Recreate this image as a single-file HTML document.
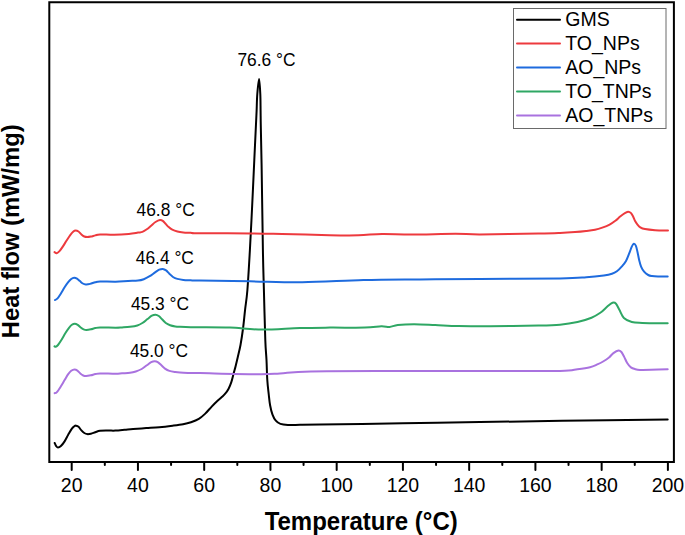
<!DOCTYPE html>
<html><head><meta charset="utf-8"><style>
html,body{margin:0;padding:0;background:#fff;}
body{width:685px;height:535px;overflow:hidden;}
svg{display:block;}
text{font-family:"Liberation Sans",sans-serif;fill:#000;}
.tl{font-size:19.5px;}
.lg{font-size:19.5px;}
.an{font-size:17.4px;}
.ax{font-size:24px;font-weight:bold;}
</style></head><body>
<svg width="685" height="535" viewBox="0 0 685 535">
<rect x="0" y="0" width="685" height="535" fill="#fff"/>
<path d="M54.70,443.00 C54.95,443.52 55.65,445.33 56.20,446.10 C56.75,446.87 57.22,447.60 58.00,447.60 C58.78,447.60 59.80,447.13 60.90,446.10 C62.00,445.07 63.38,443.28 64.60,441.40 C65.82,439.52 66.98,436.93 68.20,434.80 C69.42,432.67 70.80,430.08 71.90,428.60 C73.00,427.12 74.13,426.38 74.80,425.90 C75.47,425.42 75.28,425.55 75.90,425.70 C76.52,425.85 77.58,426.02 78.50,426.80 C79.42,427.58 80.43,429.37 81.40,430.40 C82.37,431.43 83.33,432.38 84.30,433.00 C85.27,433.62 86.10,433.98 87.20,434.10 C88.30,434.22 89.55,434.02 90.90,433.70 C92.25,433.38 93.78,432.68 95.30,432.20 C96.82,431.72 97.82,431.07 100.00,430.80 C102.18,430.53 105.83,430.63 108.40,430.60 C110.97,430.57 112.68,430.73 115.40,430.60 C118.12,430.47 121.75,430.07 124.70,429.80 C127.65,429.53 129.50,429.28 133.10,429.00 C136.70,428.72 141.92,428.40 146.30,428.10 C150.68,427.80 155.02,427.60 159.40,427.20 C163.78,426.80 168.65,426.20 172.60,425.70 C176.55,425.20 180.03,424.78 183.10,424.20 C186.17,423.62 188.38,423.08 191.00,422.20 C193.62,421.32 196.47,420.28 198.80,418.90 C201.13,417.52 202.85,415.95 205.00,413.90 C207.15,411.85 209.65,408.75 211.70,406.60 C213.75,404.45 215.62,402.58 217.30,401.00 C218.98,399.42 220.48,398.32 221.80,397.10 C223.12,395.88 224.07,395.10 225.20,393.70 C226.33,392.30 227.57,390.67 228.60,388.70 C229.63,386.73 230.57,384.43 231.40,381.90 C232.23,379.37 232.90,376.12 233.60,373.50 C234.30,370.88 234.90,368.95 235.60,366.20 C236.30,363.45 236.98,360.53 237.80,357.00 C238.62,353.47 239.62,349.83 240.50,345.00 C241.38,340.17 242.33,333.90 243.10,328.00 C243.87,322.10 244.38,315.93 245.10,309.60 C245.82,303.27 246.60,299.93 247.40,290.00 C248.20,280.07 249.10,264.17 249.90,250.00 C250.70,235.83 251.47,220.00 252.20,205.00 C252.93,190.00 253.68,173.17 254.30,160.00 C254.92,146.83 255.52,134.17 255.90,126.00 C256.28,117.83 256.37,116.33 256.60,111.00 C256.83,105.67 256.88,99.33 257.30,94.00 C257.72,88.67 258.60,79.00 259.10,79.00 C259.60,79.00 260.05,88.67 260.30,94.00 C260.55,99.33 260.52,105.67 260.60,111.00 C260.68,116.33 260.63,117.00 260.80,126.00 C260.97,135.00 261.25,144.33 261.60,165.00 C261.95,185.67 262.52,229.17 262.90,250.00 C263.28,270.83 263.50,275.00 263.90,290.00 C264.30,305.00 264.87,328.33 265.30,340.00 C265.73,351.67 266.17,353.33 266.50,360.00 C266.83,366.67 266.93,374.33 267.30,380.00 C267.67,385.67 268.23,389.80 268.70,394.00 C269.17,398.20 269.47,401.77 270.10,405.20 C270.73,408.63 271.55,412.02 272.50,414.60 C273.45,417.18 274.48,419.15 275.80,420.70 C277.12,422.25 278.38,423.20 280.40,423.90 C282.42,424.60 284.63,424.75 287.90,424.90 C291.17,425.05 294.65,424.87 300.00,424.80 C305.35,424.73 309.67,424.65 320.00,424.50 C330.33,424.35 345.33,424.15 362.00,423.90 C378.67,423.65 400.33,423.30 420.00,423.00 C439.67,422.70 456.33,422.47 480.00,422.10 C503.67,421.73 530.72,421.22 562.00,420.80 C593.28,420.38 650.08,419.80 667.70,419.60" stroke="#000000" stroke-width="2.00" fill="none" stroke-linejoin="round" stroke-linecap="round"/>
<path d="M54.50,252.10 C54.87,252.28 55.87,253.35 56.70,253.20 C57.53,253.05 58.43,252.38 59.50,251.20 C60.57,250.02 61.88,247.93 63.10,246.10 C64.32,244.27 65.58,242.08 66.80,240.20 C68.02,238.32 69.30,236.25 70.40,234.80 C71.50,233.35 72.55,232.20 73.40,231.50 C74.25,230.80 74.65,230.60 75.50,230.60 C76.35,230.60 77.52,230.87 78.50,231.50 C79.48,232.13 80.43,233.57 81.40,234.40 C82.37,235.23 83.33,236.05 84.30,236.50 C85.27,236.95 86.10,237.08 87.20,237.10 C88.30,237.12 89.55,236.88 90.90,236.60 C92.25,236.32 93.78,235.77 95.30,235.40 C96.82,235.03 96.85,234.52 100.00,234.40 C103.15,234.28 109.40,234.78 114.20,234.70 C119.00,234.62 124.83,234.25 128.80,233.90 C132.77,233.55 135.73,232.93 138.00,232.60 C140.27,232.27 140.93,232.45 142.40,231.90 C143.87,231.35 145.35,230.33 146.80,229.30 C148.25,228.27 149.65,226.92 151.10,225.70 C152.55,224.48 154.03,222.95 155.50,222.00 C156.97,221.05 158.68,220.18 159.90,220.00 C161.12,219.82 161.83,220.25 162.80,220.90 C163.77,221.55 164.72,222.87 165.70,223.90 C166.68,224.93 167.60,226.13 168.70,227.10 C169.80,228.07 170.85,228.97 172.30,229.70 C173.75,230.43 175.57,231.05 177.40,231.50 C179.23,231.95 181.12,232.18 183.30,232.40 C185.48,232.62 187.75,232.65 190.50,232.80 C193.25,232.95 189.67,233.20 199.80,233.30 C209.93,233.40 237.60,233.28 251.30,233.40 C265.00,233.52 268.95,233.70 282.00,234.00 C295.05,234.30 316.83,234.98 329.60,235.20 C342.37,235.42 349.83,235.52 358.60,235.30 C367.37,235.08 373.40,234.03 382.20,233.90 C391.00,233.77 399.23,234.52 411.40,234.50 C423.57,234.48 443.77,233.82 455.20,233.80 C466.63,233.78 466.13,234.43 480.00,234.40 C493.87,234.37 525.07,233.83 538.40,233.60 C551.73,233.37 553.90,233.25 560.00,233.00 C566.10,232.75 570.65,232.43 575.00,232.10 C579.35,231.77 582.77,231.40 586.10,231.00 C589.43,230.60 592.30,230.27 595.00,229.70 C597.70,229.13 599.87,228.45 602.30,227.60 C604.73,226.75 607.42,225.75 609.60,224.60 C611.78,223.45 613.58,222.08 615.40,220.70 C617.22,219.32 618.78,217.63 620.50,216.30 C622.22,214.97 624.42,213.47 625.70,212.70 C626.98,211.93 627.35,211.67 628.20,211.70 C629.05,211.73 630.00,212.13 630.80,212.90 C631.60,213.67 632.28,214.93 633.00,216.30 C633.72,217.67 634.38,219.77 635.10,221.10 C635.82,222.43 636.43,223.27 637.30,224.30 C638.17,225.33 639.02,226.50 640.30,227.30 C641.58,228.10 642.53,228.62 645.00,229.10 C647.47,229.58 651.27,229.97 655.10,230.20 C658.93,230.43 665.85,230.45 668.00,230.50" stroke="#ED3A3E" stroke-width="2.00" fill="none" stroke-linejoin="round" stroke-linecap="round"/>
<path d="M55.00,300.00 C55.38,299.78 56.32,299.78 57.30,298.70 C58.28,297.62 59.68,295.40 60.90,293.50 C62.12,291.60 63.38,289.18 64.60,287.30 C65.82,285.42 67.10,283.58 68.20,282.20 C69.30,280.82 70.22,279.75 71.20,279.00 C72.18,278.25 73.13,277.77 74.10,277.70 C75.07,277.63 76.03,278.03 77.00,278.60 C77.97,279.17 78.93,280.28 79.90,281.10 C80.87,281.92 81.82,282.95 82.80,283.50 C83.78,284.05 84.58,284.33 85.80,284.40 C87.02,284.47 88.52,284.27 90.10,283.90 C91.68,283.53 93.65,282.60 95.30,282.20 C96.95,281.80 96.60,281.58 100.00,281.50 C103.40,281.42 111.03,281.78 115.70,281.70 C120.37,281.62 124.28,281.18 128.00,281.00 C131.72,280.82 135.37,280.90 138.00,280.60 C140.63,280.30 141.85,279.93 143.80,279.20 C145.75,278.47 147.87,277.30 149.70,276.20 C151.53,275.10 153.22,273.68 154.80,272.60 C156.38,271.52 157.87,270.32 159.20,269.70 C160.53,269.08 161.65,268.78 162.80,268.90 C163.95,269.02 165.00,269.60 166.10,270.40 C167.20,271.20 168.25,272.60 169.40,273.70 C170.55,274.80 171.67,276.13 173.00,277.00 C174.33,277.87 175.68,278.42 177.40,278.90 C179.12,279.38 181.07,279.67 183.30,279.90 C185.53,280.13 188.02,280.18 190.80,280.30 C193.58,280.42 190.13,280.43 200.00,280.60 C209.87,280.77 232.97,281.03 250.00,281.30 C267.03,281.57 283.28,282.40 302.20,282.20 C321.12,282.00 343.87,280.57 363.50,280.10 C383.13,279.63 400.58,279.60 420.00,279.40 C439.42,279.20 456.67,279.05 480.00,278.90 C503.33,278.75 542.28,278.77 560.00,278.50 C577.72,278.23 579.00,277.80 586.30,277.30 C593.60,276.80 599.52,276.08 603.80,275.50 C608.08,274.92 609.82,274.50 612.00,273.80 C614.18,273.10 615.25,272.53 616.90,271.30 C618.55,270.07 620.38,268.12 621.90,266.40 C623.42,264.68 624.77,263.20 626.00,261.00 C627.23,258.80 628.33,255.60 629.30,253.20 C630.27,250.80 631.05,248.17 631.80,246.60 C632.55,245.03 633.12,243.93 633.80,243.80 C634.48,243.67 635.28,244.43 635.90,245.80 C636.52,247.17 636.95,249.60 637.50,252.00 C638.05,254.40 638.58,257.73 639.20,260.20 C639.82,262.67 640.38,264.88 641.20,266.80 C642.02,268.72 642.93,270.33 644.10,271.70 C645.27,273.07 646.88,274.28 648.20,275.00 C649.52,275.72 650.37,275.77 652.00,276.00 C653.63,276.23 655.38,276.33 658.00,276.40 C660.62,276.47 666.08,276.40 667.70,276.40" stroke="#1E6BDE" stroke-width="2.00" fill="none" stroke-linejoin="round" stroke-linecap="round"/>
<path d="M54.50,346.30 C54.70,346.38 55.12,347.02 55.70,346.80 C56.28,346.58 57.00,346.22 58.00,345.00 C59.00,343.78 60.48,341.45 61.70,339.50 C62.92,337.55 64.08,335.23 65.30,333.30 C66.52,331.37 67.90,329.32 69.00,327.90 C70.10,326.48 70.93,325.50 71.90,324.80 C72.87,324.10 73.83,323.70 74.80,323.70 C75.77,323.70 76.72,324.17 77.70,324.80 C78.68,325.43 79.72,326.75 80.70,327.50 C81.68,328.25 82.63,328.90 83.60,329.30 C84.57,329.70 85.28,329.90 86.50,329.90 C87.72,329.90 89.43,329.60 90.90,329.30 C92.37,329.00 93.78,328.40 95.30,328.10 C96.82,327.80 96.60,327.57 100.00,327.50 C103.40,327.43 112.03,327.72 115.70,327.70 C119.37,327.68 119.62,327.55 122.00,327.40 C124.38,327.25 127.45,327.12 130.00,326.80 C132.55,326.48 135.23,326.13 137.30,325.50 C139.37,324.87 140.70,324.08 142.40,323.00 C144.10,321.92 145.92,320.22 147.50,319.00 C149.08,317.78 150.57,316.42 151.90,315.70 C153.23,314.98 154.35,314.65 155.50,314.70 C156.65,314.75 157.70,315.23 158.80,316.00 C159.90,316.77 160.93,318.13 162.10,319.30 C163.27,320.47 164.47,322.02 165.80,323.00 C167.13,323.98 168.52,324.63 170.10,325.20 C171.68,325.77 173.65,326.13 175.30,326.40 C176.95,326.67 177.43,326.67 180.00,326.80 C182.57,326.93 187.37,327.13 190.70,327.20 C194.03,327.27 193.45,327.13 200.00,327.20 C206.55,327.27 219.67,327.20 230.00,327.60 C240.33,328.00 250.33,329.53 262.00,329.60 C273.67,329.67 288.67,328.33 300.00,328.00 C311.33,327.67 319.17,327.67 330.00,327.60 C340.83,327.53 356.43,327.83 365.00,327.60 C373.57,327.37 377.30,326.30 381.40,326.20 C385.50,326.10 386.87,327.20 389.60,327.00 C392.33,326.80 393.72,325.47 397.80,325.00 C401.88,324.53 407.88,324.20 414.10,324.20 C420.32,324.20 427.70,324.68 435.10,325.00 C442.50,325.32 449.35,325.90 458.50,326.10 C467.65,326.30 476.68,326.28 490.00,326.20 C503.32,326.12 526.73,325.85 538.40,325.60 C550.07,325.35 553.48,325.30 560.00,324.70 C566.52,324.10 572.25,323.17 577.50,322.00 C582.75,320.83 587.70,319.23 591.50,317.70 C595.30,316.17 597.67,314.65 600.30,312.80 C602.93,310.95 605.27,308.27 607.30,306.60 C609.33,304.93 611.05,303.28 612.50,302.80 C613.95,302.32 614.83,302.48 616.00,303.70 C617.17,304.92 618.18,307.72 619.50,310.10 C620.82,312.48 621.85,316.02 623.90,318.00 C625.95,319.98 628.73,321.18 631.80,322.00 C634.87,322.82 636.32,322.68 642.30,322.90 C648.28,323.12 663.47,323.23 667.70,323.30" stroke="#2FA764" stroke-width="2.00" fill="none" stroke-linejoin="round" stroke-linecap="round"/>
<path d="M54.70,393.20 C55.07,393.02 55.87,393.25 56.90,392.10 C57.93,390.95 59.62,388.30 60.90,386.30 C62.18,384.30 63.38,382.12 64.60,380.10 C65.82,378.08 67.10,375.75 68.20,374.20 C69.30,372.65 70.15,371.58 71.20,370.80 C72.25,370.02 73.47,369.53 74.50,369.50 C75.53,369.47 76.43,369.93 77.40,370.60 C78.37,371.27 79.33,372.68 80.30,373.50 C81.27,374.32 82.23,375.07 83.20,375.50 C84.17,375.93 84.82,376.13 86.10,376.10 C87.38,376.07 89.37,375.63 90.90,375.30 C92.43,374.97 93.78,374.42 95.30,374.10 C96.82,373.78 96.60,373.45 100.00,373.40 C103.40,373.35 112.03,373.82 115.70,373.80 C119.37,373.78 119.62,373.47 122.00,373.30 C124.38,373.13 127.70,373.10 130.00,372.80 C132.30,372.50 133.85,372.13 135.80,371.50 C137.75,370.87 139.87,370.03 141.70,369.00 C143.53,367.97 145.22,366.43 146.80,365.30 C148.38,364.17 149.87,362.87 151.20,362.20 C152.53,361.53 153.65,361.27 154.80,361.30 C155.95,361.33 157.00,361.73 158.10,362.40 C159.20,363.07 160.25,364.27 161.40,365.30 C162.55,366.33 163.67,367.67 165.00,368.60 C166.33,369.53 167.68,370.32 169.40,370.90 C171.12,371.48 173.53,371.82 175.30,372.10 C177.07,372.38 177.88,372.47 180.00,372.60 C182.12,372.73 184.67,372.82 188.00,372.90 C191.33,372.98 188.00,372.88 200.00,373.10 C212.00,373.32 246.67,374.15 260.00,374.20 C273.33,374.25 271.55,373.87 280.00,373.40 C288.45,372.93 290.70,371.80 310.70,371.40 C330.70,371.00 370.12,371.08 400.00,371.00 C429.88,370.92 463.33,370.92 490.00,370.90 C516.67,370.88 545.42,371.18 560.00,370.90 C574.58,370.62 572.50,369.82 577.50,369.20 C582.50,368.58 586.70,368.00 590.00,367.20 C593.30,366.40 595.12,365.35 597.30,364.40 C599.48,363.45 601.15,362.65 603.10,361.50 C605.05,360.35 607.28,358.90 609.00,357.50 C610.72,356.10 611.82,354.28 613.40,353.10 C614.98,351.92 617.17,350.58 618.50,350.40 C619.83,350.22 620.43,350.88 621.40,352.00 C622.37,353.12 623.33,355.27 624.30,357.10 C625.27,358.93 626.10,361.28 627.20,363.00 C628.30,364.72 629.55,366.37 630.90,367.40 C632.25,368.43 633.78,368.78 635.30,369.20 C636.82,369.62 637.38,369.80 640.00,369.90 C642.62,370.00 646.38,369.92 651.00,369.80 C655.62,369.68 664.92,369.30 667.70,369.20" stroke="#A972DF" stroke-width="2.00" fill="none" stroke-linejoin="round" stroke-linecap="round"/>
<rect x="513.5" y="8.5" width="152.5" height="120" fill="#fff" stroke="#6a6a6a" stroke-width="1"/>
<line x1="517" y1="19.8" x2="560" y2="19.8" stroke="#000000" stroke-width="2" stroke-linecap="round"/>
<text transform="translate(565.3,26.20) scale(1,1.06)" class="lg">GMS</text>
<line x1="517" y1="43.6" x2="560" y2="43.6" stroke="#ED3A3E" stroke-width="2" stroke-linecap="round"/>
<text transform="translate(565.3,50.00) scale(1,1.06)" class="lg">TO_NPs</text>
<line x1="517" y1="67.6" x2="560" y2="67.6" stroke="#1E6BDE" stroke-width="2" stroke-linecap="round"/>
<text transform="translate(565.3,74.00) scale(1,1.06)" class="lg">AO_NPs</text>
<line x1="517" y1="91.5" x2="560" y2="91.5" stroke="#2FA764" stroke-width="2" stroke-linecap="round"/>
<text transform="translate(565.3,97.90) scale(1,1.06)" class="lg">TO_TNPs</text>
<line x1="517" y1="115.4" x2="560" y2="115.4" stroke="#A972DF" stroke-width="2" stroke-linecap="round"/>
<text transform="translate(565.3,121.80) scale(1,1.06)" class="lg">AO_TNPs</text>
<text transform="translate(266.5,65.8) scale(1,1.07)" text-anchor="middle" class="an">76.6 °C</text>
<text transform="translate(165.6,215.7) scale(1,1.07)" text-anchor="middle" class="an">46.8 °C</text>
<text transform="translate(164.8,264.4) scale(1,1.07)" text-anchor="middle" class="an">46.4 °C</text>
<text transform="translate(160.0,309.8) scale(1,1.07)" text-anchor="middle" class="an">45.3 °C</text>
<text transform="translate(159.0,357.0) scale(1,1.07)" text-anchor="middle" class="an">45.0 °C</text>
<path d="M49.3,1.2 V462.9 M48.3,2.2 H674.9 M673.9,1.2 V462.9 M48.3,461.9 H674.9" fill="none" stroke="#000" stroke-width="2"/>
<line x1="71.70" y1="461.90" x2="71.70" y2="469.9" stroke="#000" stroke-width="2" stroke-linecap="round"/>
<line x1="137.94" y1="461.90" x2="137.94" y2="469.9" stroke="#000" stroke-width="2" stroke-linecap="round"/>
<line x1="204.19" y1="461.90" x2="204.19" y2="469.9" stroke="#000" stroke-width="2" stroke-linecap="round"/>
<line x1="270.43" y1="461.90" x2="270.43" y2="469.9" stroke="#000" stroke-width="2" stroke-linecap="round"/>
<line x1="336.68" y1="461.90" x2="336.68" y2="469.9" stroke="#000" stroke-width="2" stroke-linecap="round"/>
<line x1="402.92" y1="461.90" x2="402.92" y2="469.9" stroke="#000" stroke-width="2" stroke-linecap="round"/>
<line x1="469.17" y1="461.90" x2="469.17" y2="469.9" stroke="#000" stroke-width="2" stroke-linecap="round"/>
<line x1="535.41" y1="461.90" x2="535.41" y2="469.9" stroke="#000" stroke-width="2" stroke-linecap="round"/>
<line x1="601.66" y1="461.90" x2="601.66" y2="469.9" stroke="#000" stroke-width="2" stroke-linecap="round"/>
<line x1="667.90" y1="461.90" x2="667.90" y2="469.9" stroke="#000" stroke-width="2" stroke-linecap="round"/>
<line x1="104.82" y1="461.90" x2="104.82" y2="465.0" stroke="#000" stroke-width="2" stroke-linecap="round"/>
<line x1="171.07" y1="461.90" x2="171.07" y2="465.0" stroke="#000" stroke-width="2" stroke-linecap="round"/>
<line x1="237.31" y1="461.90" x2="237.31" y2="465.0" stroke="#000" stroke-width="2" stroke-linecap="round"/>
<line x1="303.56" y1="461.90" x2="303.56" y2="465.0" stroke="#000" stroke-width="2" stroke-linecap="round"/>
<line x1="369.80" y1="461.90" x2="369.80" y2="465.0" stroke="#000" stroke-width="2" stroke-linecap="round"/>
<line x1="436.04" y1="461.90" x2="436.04" y2="465.0" stroke="#000" stroke-width="2" stroke-linecap="round"/>
<line x1="502.29" y1="461.90" x2="502.29" y2="465.0" stroke="#000" stroke-width="2" stroke-linecap="round"/>
<line x1="568.53" y1="461.90" x2="568.53" y2="465.0" stroke="#000" stroke-width="2" stroke-linecap="round"/>
<line x1="634.78" y1="461.90" x2="634.78" y2="465.0" stroke="#000" stroke-width="2" stroke-linecap="round"/>
<text x="71.70" y="491.5" text-anchor="middle" class="tl">20</text>
<text x="137.94" y="491.5" text-anchor="middle" class="tl">40</text>
<text x="204.19" y="491.5" text-anchor="middle" class="tl">60</text>
<text x="270.43" y="491.5" text-anchor="middle" class="tl">80</text>
<text x="336.68" y="491.5" text-anchor="middle" class="tl">100</text>
<text x="402.92" y="491.5" text-anchor="middle" class="tl">120</text>
<text x="469.17" y="491.5" text-anchor="middle" class="tl">140</text>
<text x="535.41" y="491.5" text-anchor="middle" class="tl">160</text>
<text x="601.66" y="491.5" text-anchor="middle" class="tl">180</text>
<text x="667.90" y="491.5" text-anchor="middle" class="tl">200</text>
<text transform="translate(361.2,530.2) scale(1,1.04)" text-anchor="middle" class="ax">Temperature (°C)</text>
<text transform="translate(18.9,231.3) rotate(-90)" text-anchor="middle" class="ax" style="font-size:23.75px">Heat flow (mW/mg)</text>
</svg>
</body></html>
